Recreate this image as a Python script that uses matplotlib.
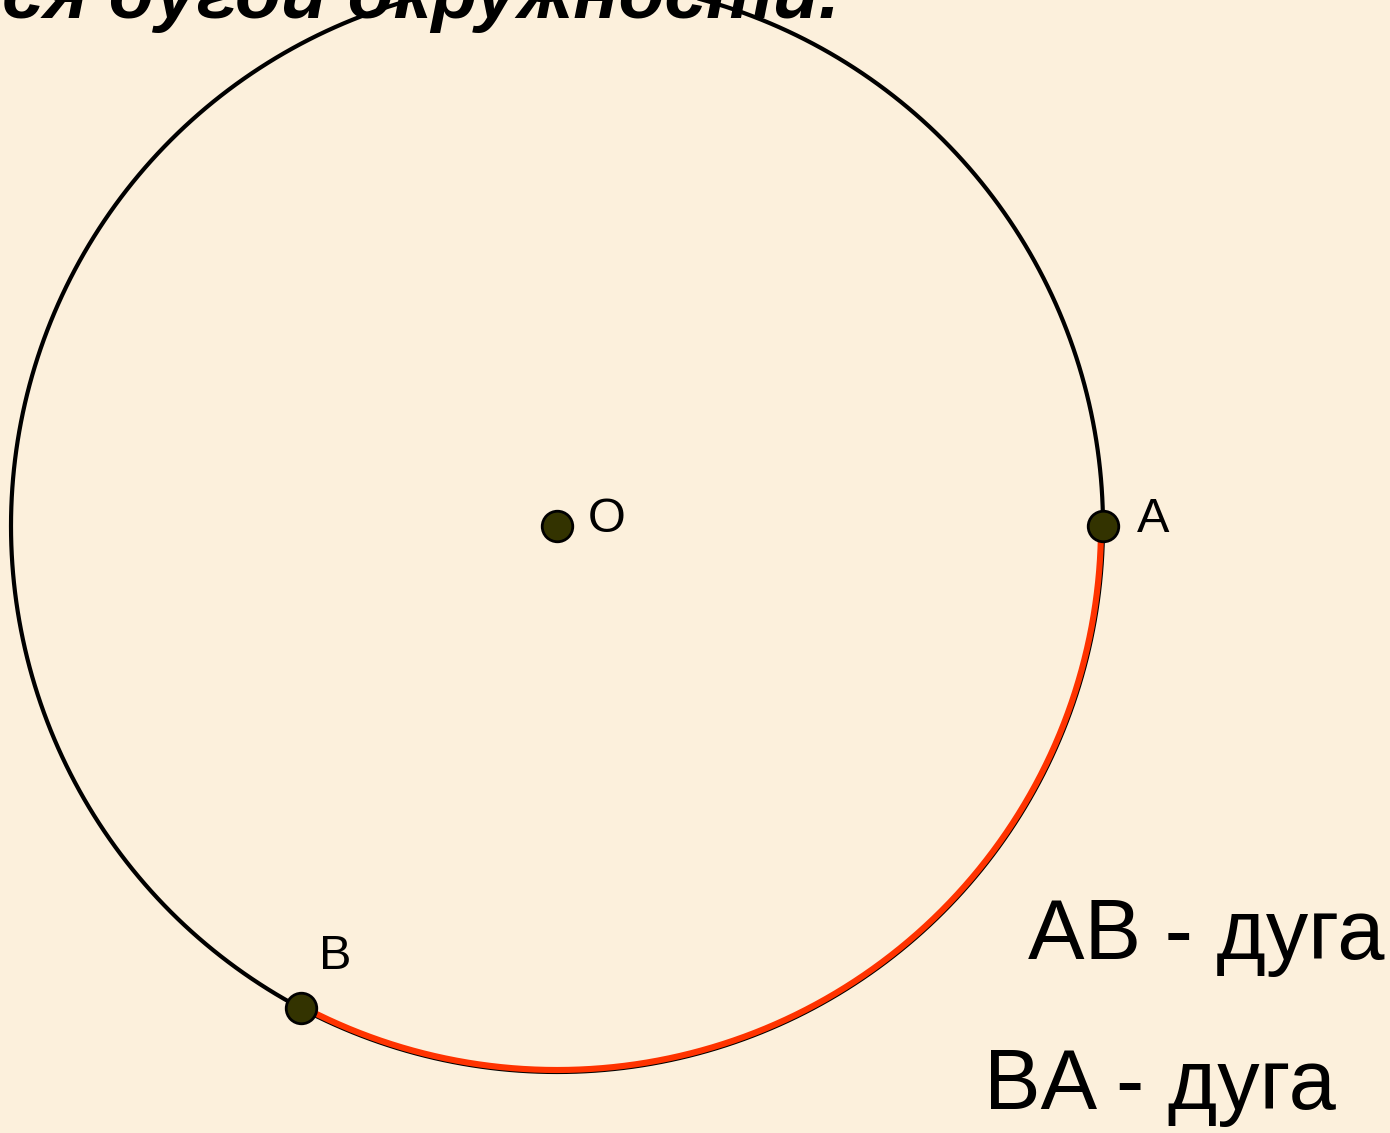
import numpy as np
import matplotlib.pyplot as plt

# geometry (pixel units, y grows downward)
center = (557, 526)
radius = 546
point_names = ['O', 'A', 'B']
point_angles = [None, 0.0, 118.0]  # degrees, screen orientation
arc_from, arc_to = 0.0, 118.0
captions = ['AB - дуга', 'BA - дуга']
title_text = 'ся дугой окружности.'

W, H = 1390, 1133
fig = plt.figure(figsize=(W / 100, H / 100), dpi=100)
fig.patch.set_facecolor('#fcf0dc')
ax = fig.add_axes([0, 0, 1, 1])
ax.set_facecolor('#fcf0dc')
ax.set_xlim(0, W)
ax.set_ylim(H, 0)
ax.set_aspect('equal')
ax.axis('off')

cx, cy = center
t = np.radians(np.linspace(0, 360, 721))
ax.plot(cx + radius * np.cos(t), cy + radius * np.sin(t), color='black', lw=3, zorder=2)

t = np.radians(np.linspace(arc_from, arc_to, 300))
ax.plot(cx + (radius - 2) * np.cos(t), cy + (radius - 2) * np.sin(t),
        color='#ff3300', lw=4.4, solid_capstyle='butt', zorder=3)

# points and their labels
label_offsets = {'O': (50, -6), 'A': (50, -6), 'B': (35, -52)}
for name, ang in zip(point_names, point_angles):
    if ang is None:
        px, py = cx, cy
    else:
        px = cx + radius * np.cos(np.radians(ang))
        py = cy + radius * np.sin(np.radians(ang))
    ax.plot(px, py, 'o', ms=22, mfc='#333300', mec='black', mew=2, zorder=4)
    dx, dy = label_offsets[name]
    ax.text(px + dx, py + dy, name, fontsize=35, family='Liberation Sans',
            ha='center', va='center', color='black', zorder=5)

ax.text(1028, 937, captions[0], fontsize=61, family='Liberation Sans',
        ha='left', va='center', color='black')
ax.text(984, 1087, captions[1], fontsize=61, family='Liberation Sans',
        ha='left', va='center', color='black')

ax.text(2, 18, title_text, fontsize=54, family='Liberation Sans',
        weight='bold', style='italic', ha='left', va='baseline', color='black', zorder=1)

fig.savefig('out.png', dpi=100, facecolor=fig.get_facecolor())
